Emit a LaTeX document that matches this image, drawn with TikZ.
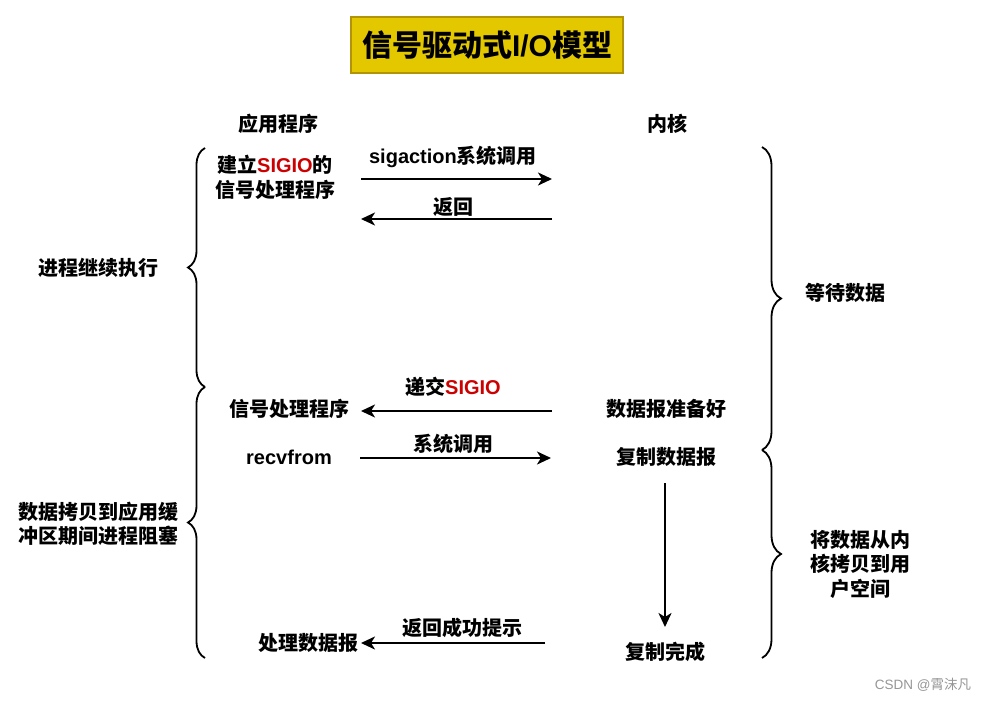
\documentclass[tikz,border=0pt]{standalone}
\usepackage{fontspec}
\setmainfont{Noto Sans CJK SC}
\newfontfamily\lat{Liberation Sans}
\usetikzlibrary{arrows.meta,decorations.pathreplacing}
\definecolor{titlefill}{RGB}{227,200,0}
\definecolor{titleborder}{RGB}{178,148,0}
\definecolor{sigred}{RGB}{204,0,0}
\definecolor{wmgray}{RGB}{150,150,150}
\begin{document}
\begin{tikzpicture}[x=1pt,y=-1pt,
  lbl/.style={font=\fontsize{20}{24.5}\selectfont\bfseries, inner sep=0pt, align=center},
  arr/.style={line width=2.2pt, -{Stealth[length=14pt,width=13pt,inset=4pt]}},
  lbrc/.style={line width=1.8pt, decorate, decoration={brace, amplitude=17pt}},
  rbrc/.style={line width=1.8pt, decorate, decoration={brace, amplitude=19pt}},
]
\useasboundingbox (0,0) rectangle (988,701);
\fill[white] (0,0) rectangle (988,701);

% title
\node[draw=titleborder, fill=titlefill, line width=2.2pt, minimum width=272pt, minimum height=56pt,
      inner sep=0pt, font=\fontsize{30}{34}\selectfont\bfseries] (title) at (487,45) {信号驱动式{\lat I/O}模型};

% labels
\node[lbl] (app) at (278,124) {应用程序};
\node[lbl] (kern) at (667,124) {内核};
\node[lbl] (setup) at (275,177.5) {建立{\lat\color{sigred}SIGIO}的\\信号处理程序};
\node[lbl] (sigact) at (453,157) {{\lat sigaction}系统调用};
\node[lbl] (ret1) at (453,207) {返回};
\node[lbl] (cont) at (98,268) {进程继续执行};
\node[lbl] (wait) at (845,293) {等待数据};
\node[lbl] (deliver) at (453,387) {递交{\lat\color{sigred}SIGIO}};
\node[lbl] (handler) at (289,409) {信号处理程序};
\node[lbl] (ready) at (666,409) {数据报准备好};
\node[lbl] (syscall) at (453,444) {系统调用};
\node[lbl] (recv) at (289,457) {\lat recvfrom};
\node[lbl] (copy) at (666,457) {复制数据报};
\node[lbl] (block) at (98,524) {数据拷贝到应用缓\\冲区期间进程阻塞};
\node[lbl] (k2u) at (860,564) {将数据从内\\核拷贝到用\\户空间};
\node[lbl] (retok) at (462,628) {返回成功提示};
\node[lbl] (proc) at (308,643) {处理数据报};
\node[lbl] (done) at (665,652) {复制完成};
\node[font=\fontsize{13.5}{16}\selectfont, text=wmgray, inner sep=0pt] (wm) at (923,685) {{\lat CSDN @}霄沫凡};

% arrow end points
\coordinate (a1s) at (361,179); \coordinate (a1e) at (552,179);
\coordinate (a2s) at (552,219); \coordinate (a2e) at (361,219);
\coordinate (a3s) at (552,411); \coordinate (a3e) at (361,411);
\coordinate (a4s) at (360,458); \coordinate (a4e) at (551,458);
\coordinate (a5s) at (545,643); \coordinate (a5e) at (361,643);
\coordinate (a6s) at (665,483); \coordinate (a6e) at (665,627);

\draw[arr] (a1s) -- (a1e);
\draw[arr] (a2s) -- (a2e);
\draw[arr] (a3s) -- (a3e);
\draw[arr] (a4s) -- (a4e);
\draw[arr] (a5s) -- (a5e);
\draw[arr] (a6s) -- (a6e);

% braces
\coordinate (lb1) at (205,148); \coordinate (lb2) at (205,387); \coordinate (lb3) at (205,658);
\coordinate (rb1) at (762,147); \coordinate (rb2) at (762,450); \coordinate (rb3) at (762,658);
\draw[lbrc] (lb2) -- (lb1);
\draw[lbrc] (lb3) -- (lb2);
\draw[rbrc] (rb1) -- (rb2);
\draw[rbrc] (rb2) -- (rb3);
\end{tikzpicture}
\end{document}
